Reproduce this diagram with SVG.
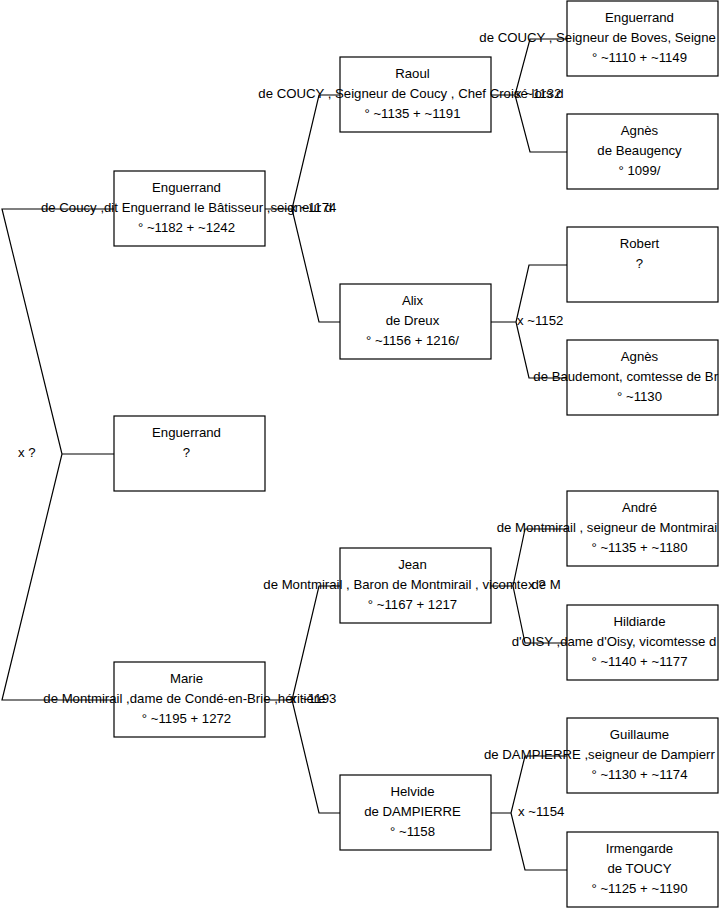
<svg xmlns="http://www.w3.org/2000/svg" width="719" height="908" viewBox="0 0 719 908">
<style>
.box{fill:#fff;stroke:#000;stroke-width:1.2}
.c{fill:none;stroke:#000;stroke-width:1.2}
text{font-family:"Liberation Sans",Arial,sans-serif;font-size:13.2px;fill:#000}
.m{text-anchor:middle}
</style>
<rect width="719" height="908" fill="#fff"/>
<g id="connectors" class="c">
<path d="M114,209 H2 L62,454 L2,700 H114 M62,454 H114"/>
<path d="M265,209 H292 M340,95 H319 L292,209 L319,322 H340"/>
<path d="M265,700 H292 M340,586 H319 L292,700 L319,813 H340"/>
<path d="M491,95 H515 M567,39 H530 L515,95 L530,152 H567"/>
<path d="M491,322 H516 M567,265 H529 L516,322 L529,378 H567"/>
<path d="M491,586 H513 M567,529 H525 L513,586 L525,643 H567"/>
<path d="M491,813 H511 M567,756 H525 L511,813 L525,870 H567"/>
</g>
<g id="n1"><rect class="box" x="114" y="171" width="151" height="75"/>
<text class="m" x="186.5" y="191.5">Enguerrand</text>
<text x="41" y="211.5">de Coucy ,dit Enguerrand le Bâtisseur ,seigneur d</text>
<text class="m" x="186.5" y="231.5">° ~1182 + ~1242</text></g>
<g id="n2"><rect class="box" x="114" y="416" width="151" height="75"/>
<text class="m" x="186.5" y="436.5">Enguerrand</text>
<text class="m" x="186.5" y="456.5">?</text></g>
<g id="n3"><rect class="box" x="114" y="662" width="151" height="75"/>
<text class="m" x="186.5" y="682.5">Marie</text>
<text x="43.3" y="702.5">de Montmirail ,dame de Condé-en-Brie ,héritière</text>
<text class="m" x="186.5" y="722.5">° ~1195 + 1272</text></g>
<g id="n4"><rect class="box" x="340" y="57" width="151" height="75"/>
<text class="m" x="412.5" y="77.5">Raoul</text>
<text x="258.3" y="97.5">de COUCY , Seigneur de Coucy , Chef Croisé lors d</text>
<text class="m" x="412.5" y="117.5">° ~1135 + ~1191</text></g>
<g id="n5"><rect class="box" x="340" y="284" width="151" height="75"/>
<text class="m" x="412.5" y="304.5">Alix</text>
<text class="m" x="412.5" y="324.5">de Dreux</text>
<text class="m" x="412.5" y="344.5">° ~1156 + 1216/</text></g>
<g id="n6"><rect class="box" x="340" y="548" width="151" height="75"/>
<text class="m" x="412.5" y="568.5">Jean</text>
<text x="263.3" y="588.5">de Montmirail , Baron de Montmirail , vicomte de M</text>
<text class="m" x="412.5" y="608.5">° ~1167 + 1217</text></g>
<g id="n7"><rect class="box" x="340" y="775" width="151" height="75"/>
<text class="m" x="412.5" y="795.5">Helvide</text>
<text class="m" x="412.5" y="815.5">de DAMPIERRE</text>
<text class="m" x="412.5" y="835.5">° ~1158</text></g>
<g id="n8"><rect class="box" x="567" y="1" width="151" height="75"/>
<text class="m" x="639.5" y="21.5">Enguerrand</text>
<text x="479.3" y="41.5">de COUCY ,  Seigneur de Boves, Seigne</text>
<text class="m" x="639.5" y="61.5">° ~1110 + ~1149</text></g>
<g id="n9"><rect class="box" x="567" y="114" width="151" height="75"/>
<text class="m" x="639.5" y="134.5">Agnès</text>
<text class="m" x="639.5" y="154.5">de Beaugency</text>
<text class="m" x="639.5" y="174.5">° 1099/</text></g>
<g id="n10"><rect class="box" x="567" y="227" width="151" height="75"/>
<text class="m" x="639.5" y="247.5">Robert</text>
<text class="m" x="639.5" y="267.5">?</text></g>
<g id="n11"><rect class="box" x="567" y="340" width="151" height="75"/>
<text class="m" x="639.5" y="360.5">Agnès</text>
<text x="533.3" y="380.5">de Baudemont, comtesse de Br</text>
<text class="m" x="639.5" y="400.5">° ~1130</text></g>
<g id="n12"><rect class="box" x="567" y="491" width="151" height="75"/>
<text class="m" x="639.5" y="511.5">André</text>
<text x="496.7" y="531.5">de Montmirail , seigneur de Montmirai</text>
<text class="m" x="639.5" y="551.5">° ~1135 + ~1180</text></g>
<g id="n13"><rect class="box" x="567" y="605" width="151" height="75"/>
<text class="m" x="639.5" y="625.5">Hildiarde</text>
<text x="511.7" y="645.5">d'OISY ,dame d'Oisy, vicomtesse d</text>
<text class="m" x="639.5" y="665.5">° ~1140 + ~1177</text></g>
<g id="n14"><rect class="box" x="567" y="718" width="151" height="75"/>
<text class="m" x="639.5" y="738.5">Guillaume</text>
<text x="484" y="758.5">de DAMPIERRE ,seigneur de Dampierr</text>
<text class="m" x="639.5" y="778.5">° ~1130 + ~1174</text></g>
<g id="n15"><rect class="box" x="567" y="832" width="151" height="75"/>
<text class="m" x="639.5" y="852.5">Irmengarde</text>
<text class="m" x="639.5" y="872.5">de TOUCY</text>
<text class="m" x="639.5" y="892.5">° ~1125 + ~1190</text></g>
<g id="labels">
<text x="18" y="456.5">x ?</text>
<text x="290" y="211.5">x ~1174</text>
<text x="290" y="702.5">x ~1193</text>
<text x="515" y="97.5">x ~1132</text>
<text x="517" y="324.5">x ~1152</text>
<text x="528" y="588.5">x ?</text>
<text x="518" y="815.5">x ~1154</text>
</g>
</svg>
